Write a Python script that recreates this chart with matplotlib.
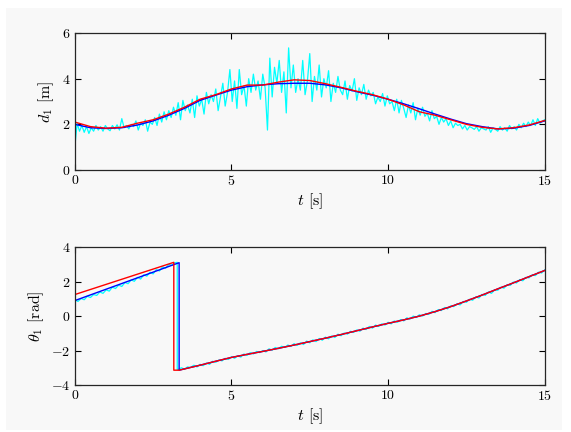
import numpy as np
import matplotlib
matplotlib.use('Agg')
import matplotlib.pyplot as plt
from matplotlib.patches import Rectangle

plt.rcParams['font.family'] = 'serif'
plt.rcParams['font.serif'] = ['cmr10']
plt.rcParams['mathtext.fontset'] = 'cm'
plt.rcParams['axes.formatter.use_mathtext'] = True

# ---- top panel: d1 ----
d_meas = [
    1.0, 2.05, 1.7, 1.95, 1.65, 1.9, 1.6, 1.85, 1.7, 1.95, 1.75, 1.9, 1.7, 1.95, 1.8, 1.72, 1.95, 1.8, 1.98, 1.75,
    2.25, 1.85, 1.95, 1.8, 2.0, 1.9, 2.15, 1.75, 2.05, 1.95, 2.2, 1.7, 2.1, 2.0, 2.3, 1.95, 2.45, 2.1, 2.55, 2.2,
    2.6, 2.3, 2.75, 2.4, 2.95, 2.2, 3.05, 2.6, 2.85, 2.5, 3.1, 2.3, 3.25, 2.8, 3.1, 2.45, 3.4, 2.9, 3.3, 3.0,
    3.55, 2.6, 3.2, 3.8, 2.8, 3.4, 4.4, 3.0, 3.9, 2.7, 4.4, 3.3, 3.7, 2.8, 4.0, 3.4, 4.2, 3.5, 3.9, 3.1,
    4.2, 3.6, 1.75, 4.9, 3.2, 4.5, 3.8, 4.8, 3.4, 4.3, 2.5, 5.35, 3.6, 4.6, 3.4, 4.0, 3.5, 4.8, 3.3, 3.9,
    5.1, 3.0, 4.1, 3.5, 4.6, 3.2, 4.0, 3.6, 4.35, 3.0, 3.8, 3.4, 4.1, 3.5, 3.3, 3.9, 3.1, 3.7, 3.45, 4.0,
    3.05, 3.6, 3.3, 3.75, 3.1, 3.5, 3.25, 3.4, 2.9, 3.2, 3.0, 3.35, 2.8, 3.25, 2.9, 3.0, 2.6, 3.1, 2.5, 3.05,
    2.7, 2.3, 2.85, 2.5, 2.95, 2.2, 2.7, 2.4, 2.75, 2.35, 2.5, 2.15, 2.6, 2.25, 2.35, 2.0, 2.3, 2.1, 2.25, 1.95,
    2.15, 1.85, 2.05, 1.95, 2.0, 1.8, 1.95, 1.75, 1.9, 1.85, 1.78, 1.9, 1.7, 1.85, 1.8, 1.75, 1.9, 1.65, 1.85, 1.78,
    1.7, 1.9, 1.75, 1.85, 1.7, 1.95, 1.8, 1.9, 1.75, 2.0, 1.85, 2.05, 1.9, 2.1, 1.95, 2.2, 1.95, 2.25, 2.05, 2.15, 2.2,
]
t_half = np.arange(0, 15.01, 0.5)
d_true = [2.0, 1.85, 1.82, 1.85, 1.97, 2.15, 2.4, 2.7, 3.05, 3.28, 3.5, 3.65, 3.73, 3.78, 3.8, 3.8,
          3.73, 3.6, 3.43, 3.28, 3.1, 2.9, 2.68, 2.45, 2.23, 2.03, 1.9, 1.8, 1.83, 1.95, 2.15]
d_est = [2.1, 1.9, 1.83, 1.87, 2.05, 2.2, 2.45, 2.75, 3.1, 3.3, 3.55, 3.72, 3.72, 3.85, 3.95, 3.92,
         3.78, 3.62, 3.45, 3.3, 3.1, 2.85, 2.55, 2.4, 2.2, 2.0, 1.87, 1.8, 1.85, 1.97, 2.17]

# ---- bottom panel: theta1 ----
th_meas_pre = [0.95, 0.85, 1.02, 0.95, 1.15, 1.08, 1.25, 1.2, 1.4, 1.32, 1.52, 1.45, 1.68, 1.6, 1.8, 1.72,
               1.95, 1.88, 2.1, 2.02, 2.25, 2.15, 2.4, 2.32, 2.55, 2.45, 2.7, 2.62, 2.85, 2.78, 3.0, 2.95,
               3.1, 3.12]
th_meas_post = [
    -3.12, -3.1, -3.0, -3.08, -2.95, -2.98, -2.85, -2.95,
    -2.8, -2.88, -2.72, -2.8, -2.62, -2.68, -2.55, -2.6, -2.45, -2.52,
    -2.36, -2.45, -2.3, -2.38, -2.2, -2.28, -2.12, -2.2, -2.05, -2.12,
    -2.0, -2.08, -1.9, -1.98, -1.82, -1.9, -1.75, -1.82, -1.68, -1.76,
    -1.6, -1.7, -1.55, -1.65, -1.45, -1.55, -1.38, -1.48, -1.3, -1.4,
    -1.22, -1.32, -1.15, -1.24, -1.05, -1.14, -0.98, -1.05, -0.88, -0.95,
    -0.8, -0.88, -0.7, -0.78, -0.6, -0.7, -0.52, -0.6, -0.45, -0.52,
    -0.36, -0.45, -0.28, -0.36, -0.2, -0.28, -0.1, -0.18, 0.0, -0.08,
    0.08, 0.0, 0.15, 0.1, 0.28, 0.2, 0.38, 0.32, 0.5, 0.42,
    0.6, 0.55, 0.72, 0.65, 0.85, 0.8, 0.98, 0.92, 1.12, 1.05,
    1.26, 1.2, 1.4, 1.32, 1.52, 1.5, 1.68, 1.62, 1.82, 1.78,
    1.98, 1.92, 2.12, 2.05, 2.25, 2.22, 2.4, 2.35, 2.55, 2.5,
    2.68,
]
t_meas_pre = list(np.round(np.arange(0, 3.25, 0.1), 2)) + [3.27]
t_meas_post = [3.27] + list(np.round(np.arange(3.3, 15.01, 0.1), 2))

t_true = [0, 3.33, 3.33, 4, 4.5, 5, 5.5, 6, 6.5, 7, 7.5, 8, 8.5, 9, 9.5, 10, 10.5, 11,
          11.5, 12, 12.5, 13, 13.5, 14, 14.5, 15]
th_true = [0.9, 3.1, -3.14, -2.85, -2.62, -2.4, -2.22, -2.05, -1.87, -1.68, -1.48, -1.28, -1.07,
           -0.85, -0.63, -0.42, -0.22, 0.0, 0.26, 0.55, 0.88, 1.22, 1.58, 1.93, 2.29, 2.65]
t_est = [0, 3.16, 3.16] + t_true[2:]
th_est = [1.25, 3.12, -3.14] + th_true[2:]

fig = plt.figure(figsize=(5.71, 4.32), dpi=100, facecolor='white')
fig.patches.append(Rectangle((6 / 571, 1 - 430 / 432), 556 / 571, 422 / 432,
                             transform=fig.transFigure, facecolor='#f8f8f8',
                             edgecolor='none', zorder=-10))

ax1 = fig.add_axes([0.131, 0.6065, 0.823, 0.317])
ax2 = fig.add_axes([0.131, 0.1088, 0.823, 0.319])

ax1.plot(np.linspace(0, 15, len(d_meas)), d_meas, color='#00ffff', lw=0.9)
ax1.plot(t_half, d_true, color='#0000ff', lw=1.0)
ax1.plot(t_half, d_est, color='#ff0000', lw=1.0)
ax1.set_ylim(0, 6)
ax1.set_yticks([0, 2, 4, 6])
ax1.set_ylabel(r'$d_1$ [m]', fontsize=11.5)

ax2.plot(t_meas_pre + t_meas_post, th_meas_pre + th_meas_post, color='#00ffff', lw=0.9)
ax2.plot(t_true, th_true, color='#0000ff', lw=1.0)
ax2.plot(t_est, th_est, color='#ff0000', lw=1.0)
ax2.set_ylim(-4, 4)
ax2.set_yticks([-4, -2, 0, 2, 4])
ax2.set_ylabel(r'$\theta_1$ [rad]', fontsize=11.5)

for ax in (ax1, ax2):
    ax.set_facecolor('#f8f8f8')
    ax.set_xlim(0, 15)
    ax.set_xticks([0, 5, 10, 15])
    ax.set_xlabel(r'$t$ [s]', fontsize=11.5, labelpad=2)
    ax.tick_params(direction='in', top=True, right=True, labelsize=10, length=4, width=0.8, pad=3)
    for s in ax.spines.values():
        s.set_color('#262626')
        s.set_linewidth(0.9)

fig.savefig('out.png', dpi=100, facecolor=fig.get_facecolor())
